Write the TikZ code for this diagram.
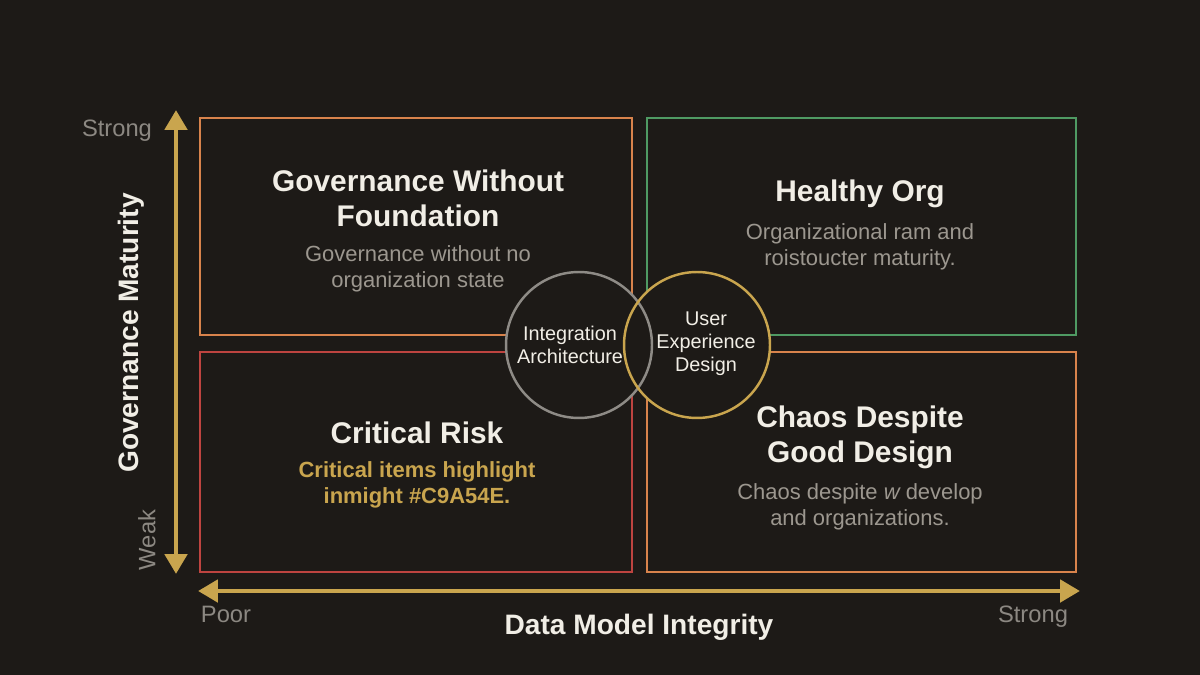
\documentclass[tikz,border=0pt]{standalone}
\usepackage{fontspec}
\setmainfont{Liberation Sans}
\usetikzlibrary{arrows.meta}
\definecolor{bgdark}{HTML}{1D1A17}
\definecolor{gold}{HTML}{C9A54E}
\definecolor{boxorange}{HTML}{D8834C}
\definecolor{boxgreen}{HTML}{4F9A63}
\definecolor{boxred}{HTML}{BE4440}
\definecolor{ringgray}{HTML}{8E8B86}
\definecolor{txtwhite}{HTML}{F1EEE6}
\definecolor{txtgray}{HTML}{9C978F}
\definecolor{axisgray}{HTML}{8C8882}
\tikzset{
  quad/.style={line width=1.4pt},
  ring/.style={circle,line width=1.4pt,minimum size=2.92cm,inner sep=0pt},
  ringtext/.style={text=txtwhite,align=center,font=\fontsize{11.3}{13}\selectfont},
  title/.style={text=txtwhite,align=center,font=\fontsize{17}{20}\selectfont\bfseries},
  subtitle/.style={text=txtgray,align=center,font=\fontsize{12.5}{14.5}\selectfont},
  axis/.style={gold,line width=2.8pt,{Triangle[length=0.4cm,width=0.44cm]}-{Triangle[length=0.4cm,width=0.44cm]}},
  axislabel/.style={text=txtwhite,font=\fontsize{16}{18}\selectfont\bfseries},
  endlabel/.style={text=axisgray,anchor=base,font=\fontsize{13.5}{15}\selectfont}
}
\begin{document}
\begin{tikzpicture}[x=0.02cm,y=-0.02cm]
\fill[bgdark](0,0)rectangle(1200,675);
\useasboundingbox(0,0)rectangle(1200,675);
% quadrants
\draw[quad,boxorange](200,118)rectangle(632,335);
\draw[quad,boxgreen](647,118)rectangle(1076,335);
\draw[quad,boxred](200,352)rectangle(632,572);
\draw[quad,boxorange](647,352)rectangle(1076,572);
% axes
\coordinate(vtop)at(176,110);
\coordinate(vbot)at(176,574);
\coordinate(hleft)at(198,591);
\coordinate(hright)at(1080,591);
\draw[axis](vbot)--(vtop);
\draw[axis](hleft)--(hright);
\node[endlabel](ystrong)at(117,137){Strong};
\node[endlabel,rotate=90,anchor=center](yweak)at(147,540){Weak};
\node[axislabel,rotate=90](ytitle)at(131,333){Governance Maturity};
\node[endlabel](xpoor)at(226,622){Poor};
\node[endlabel](xstrong)at(1033,622){Strong};
\node[axislabel](xtitle)at(639,627){Data Model Integrity};
% quadrant texts
\node[title](tltitle)at(418,198){Governance Without\\Foundation};
\node[subtitle](tlsub)at(418,269){Governance without no\\organization state};
\node[title](trtitle)at(860,194){Healthy Org};
\node[subtitle](trsub)at(860,247){Organizational ram and\\roistoucter maturity.};
\node[title](bltitle)at(417,433){Critical Risk};
\node[subtitle,text=gold,font=\fontsize{12.5}{14.5}\selectfont\bfseries](blsub)at(417,485){Critical items highlight\\inmight \#C9A54E.};
\node[title](brtitle)at(860,437){Chaos Despite\\Good Design};
\node[subtitle](brsub)at(860,507){Chaos despite {\itshape w} develop\\and organizations.};
% overlapping rings
\node[ring,fill=bgdark](integbg)at(579,345){};
\node[ring,fill=bgdark](uxbg)at(697,345){};
\node[ring,draw=ringgray](integ)at(579,345){};
\node[ring,draw=gold](ux)at(697,345){};
\node[ringtext](integtext)at(570,345){Integration\\Architecture};
\node[ringtext](uxtext)at(706,344){User\\Experience\\Design};
\end{tikzpicture}
\end{document}
